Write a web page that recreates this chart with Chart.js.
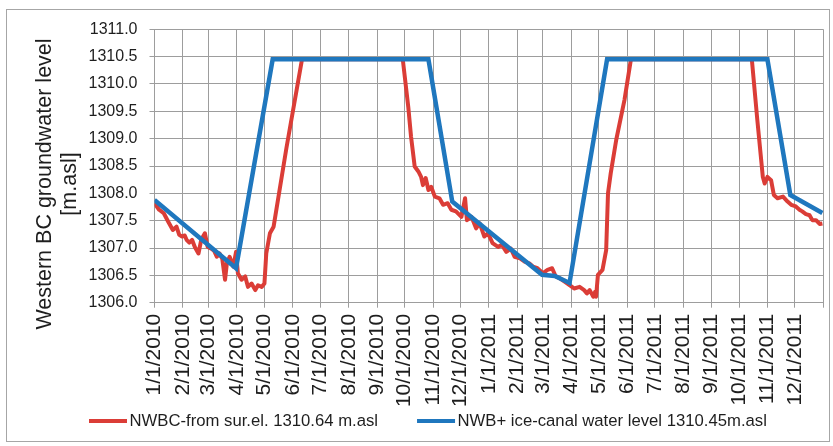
<!DOCTYPE html>
<html>
<head>
<meta charset="utf-8">
<script src="https://cdn.jsdelivr.net/npm/chart.js@4.4.1/dist/chart.umd.min.js"></script>
<style>
  html, body { margin: 0; padding: 0; background: #fff; overflow: hidden; }
  #wrap { position: relative; width: 833px; height: 446px; }
  #frame { position: absolute; left: 6px; top: 9px; width: 822px; height: 431px; border: 1px solid #a6a6a6; pointer-events: none; }
</style>
</head>
<body>
<div id="wrap">
  <canvas id="levelChart"></canvas>
  <div id="frame"></div>
</div>
<script>
// Month labels on the time axis (days counted from 1/1/2010)
const tickLabels = ['1/1/2010', '2/1/2010', '3/1/2010', '4/1/2010', '5/1/2010', '6/1/2010',
  '7/1/2010', '8/1/2010', '9/1/2010', '10/1/2010', '11/1/2010', '12/1/2010',
  '1/1/2011', '2/1/2011', '3/1/2011', '4/1/2011', '5/1/2011', '6/1/2011',
  '7/1/2011', '8/1/2011', '9/1/2011', '10/1/2011', '11/1/2011', '12/1/2011'];
const axisEndDay = 730;

// NWBC, level from surface elevation 1310.64 m.asl
const nwbcDays = [0, 5, 10, 15, 20, 24, 27, 30, 33, 35, 38, 41, 44, 48, 51, 55, 58, 62, 65, 68,
  71, 74, 77, 79, 82, 86, 89, 91, 95, 99, 102, 106, 110, 113, 117, 120, 122, 126, 130, 144,
  161, 271, 277, 280, 284, 288, 291, 293, 296, 299, 302, 306, 311, 315, 320, 324, 329, 335, 339, 341,
  346, 351, 355, 360, 364, 369, 375, 379, 384, 389, 393, 399, 404, 409, 413, 418, 424, 429, 434, 438,
  442, 448, 453, 458, 464, 469, 472, 475, 479, 481, 482, 484, 489, 493, 495, 498, 504, 513, 520, 652,
  658, 664, 666, 669, 673, 676, 680, 686, 691, 695, 700, 704, 707, 711, 715, 718, 722, 726, 729];
const nwbcLevel = [1307.82, 1307.70, 1307.64, 1307.48, 1307.33, 1307.39, 1307.24, 1307.21, 1307.23, 1307.15,
  1307.10, 1307.15, 1307.02, 1306.90, 1307.15, 1307.27, 1307.02, 1306.99, 1306.95, 1306.84,
  1306.90, 1306.80, 1306.42, 1306.72, 1306.84, 1306.66, 1306.93, 1306.54, 1306.42, 1306.48,
  1306.29, 1306.35, 1306.23, 1306.32, 1306.29, 1306.35, 1306.90, 1307.27, 1307.39, 1308.83,
  1310.45, 1310.45, 1309.58, 1309.04, 1308.49, 1308.40, 1308.30, 1308.15, 1308.28, 1308.06,
  1308.12, 1307.94, 1307.91, 1307.79, 1307.82, 1307.70, 1307.67, 1307.57, 1307.91, 1307.51,
  1307.57, 1307.36, 1307.45, 1307.21, 1307.27, 1307.09, 1307.02, 1307.06, 1306.93, 1306.99,
  1306.84, 1306.81, 1306.75, 1306.72, 1306.66, 1306.63, 1306.54, 1306.60, 1306.63, 1306.48,
  1306.45, 1306.38, 1306.32, 1306.26, 1306.29, 1306.23, 1306.17, 1306.23, 1306.11, 1306.20,
  1306.11, 1306.51, 1306.60, 1306.96, 1308.00, 1308.37, 1308.98, 1309.71, 1310.45, 1310.45,
  1309.34, 1308.30, 1308.18, 1308.30, 1308.24, 1307.97, 1307.91, 1307.94, 1307.85, 1307.79,
  1307.76, 1307.70, 1307.67, 1307.62, 1307.60, 1307.51, 1307.51, 1307.44, 1307.45];

// NWB+ with the ice-canal water level at 1310.45 m.asl
const canalDays = [0, 89, 129, 299, 325, 423, 437, 453, 494, 669, 694, 729];
const canalLevel = [1307.88, 1306.63, 1310.45, 1310.45, 1307.85, 1306.51, 1306.49, 1306.36,
  1310.45, 1310.45, 1307.97, 1307.64];

const seriesNames = ['NWBC-from sur.el. 1310.64 m.asl', 'NWB+ ice-canal water level 1310.45m.asl'];
const yTitle = ['Western BC groundwater level', '[m.asl]'];

// Day number of each month label
function dayOf(label) {
  const [m, d, y] = label.split('/').map(Number);
  return (Date.UTC(y, m - 1, d) - Date.UTC(2010, 0, 1)) / 86400000;
}
const tickDays = tickLabels.map(dayOf);

const toPoints = (days, vals) => days.map((d, i) => ({ x: d, y: vals[i] }));

const fontFamily = "'Liberation Sans', Arial, sans-serif";
const textColor = '#1e1e1e';
const gridColor = '#9d9d9d';

// Axis title and line legend drawn straight onto the canvas
const chartDecor = {
    id: 'chartDecor',
    afterDraw(chart) {
        const c = chart.ctx;
        c.save();
        c.fillStyle = textColor;

        // y axis title, two rotated lines
        c.font = '21.5px ' + fontFamily;
        c.textAlign = 'center';
        c.textBaseline = 'middle';
        c.translate(45, 184);
        c.rotate(-Math.PI / 2);
        yTitle.forEach((line, i) => c.fillText(line, 0, i * 25));
        c.setTransform(1, 0, 0, 1, 0, 0);

        // legend under the axis labels
        c.font = '16.7px ' + fontFamily;
        c.textAlign = 'left';
        const sample = 38;
        let x = 89;
        const y = 421;
        chart.data.datasets.forEach(ds => {
            c.strokeStyle = ds.borderColor;
            c.lineWidth = 4;
            c.beginPath();
            c.moveTo(x, y);
            c.lineTo(x + sample, y);
            c.stroke();
            c.fillText(ds.label, x + sample + 2.5, y);
            x += sample + 2.5 + c.measureText(ds.label).width + 39;
        });
        c.restore();
    }
};

const ctx = document.getElementById('levelChart');

new Chart(ctx, {
    type: 'line',
    data: {
        datasets: [{
            label: seriesNames[0],
            data: toPoints(nwbcDays, nwbcLevel),
            borderColor: '#db3d37',
            borderWidth: 4,
            pointRadius: 0,
            tension: 0,
            borderJoinStyle: 'round',
            order: 2
        }, {
            label: seriesNames[1],
            data: toPoints(canalDays, canalLevel),
            borderColor: '#1f77be',
            borderWidth: 4.5,
            pointRadius: 0,
            tension: 0,
            order: 1
        }]
    },
    options: {
        responsive: true,
        maintainAspectRatio: false,
        animation: false,
        layout: {
            padding: { top: 29.3, left: 32, right: 9.7, bottom: 33.3 }
        },
        plugins: {
            tooltip: { enabled: false },
            legend: { display: false }
        },
        scales: {
            x: {
                type: 'linear',
                min: 0,
                max: axisEndDay,
                afterBuildTicks: function(scale) {
                    scale.ticks = tickDays.concat(axisEndDay).map(v => ({ value: v }));
                },
                afterFit: function(scale) {
                    scale.height = 110;
                    scale.paddingLeft = 0;
                    scale.paddingRight = 0;
                },
                ticks: {
                    autoSkip: false,
                    minRotation: 90,
                    maxRotation: 90,
                    padding: 6,
                    color: textColor,
                    font: { family: fontFamily, size: 21 },
                    callback: function(value, index) {
                        return tickLabels[index] || '';
                    }
                },
                grid: { color: gridColor, lineWidth: 1, tickLength: 5 },
                border: { color: gridColor }
            },
            y: {
                min: 1306,
                max: 1311,
                afterFit: function(scale) {
                    scale.width = 122.5;
                    scale.paddingTop = 0;
                    scale.paddingBottom = 0;
                },
                ticks: {
                    stepSize: 0.5,
                    padding: 12,
                    color: textColor,
                    font: { family: fontFamily, size: 16 },
                    callback: function(value) {
                        return value.toFixed(1);
                    }
                },
                grid: { color: gridColor, lineWidth: 1, tickLength: 5 },
                border: { color: gridColor }
            }
        }
    },
    plugins: [chartDecor]
});
</script>
</body>
</html>
